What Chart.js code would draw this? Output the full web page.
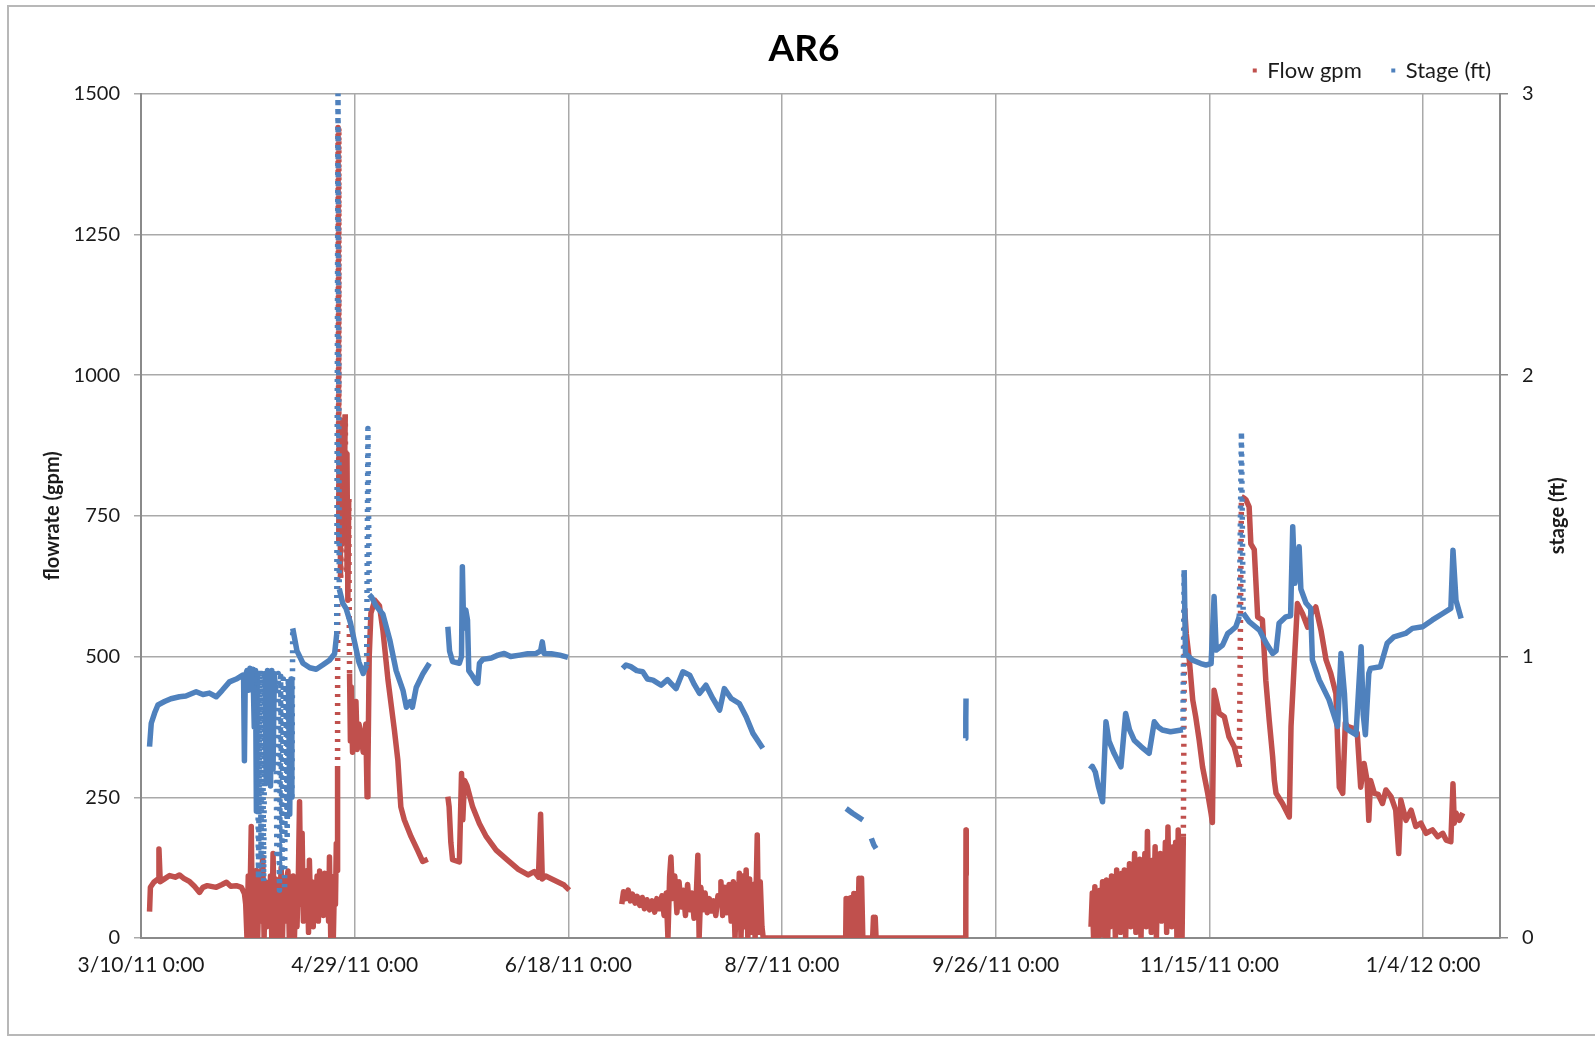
<!DOCTYPE html>
<html>
<head>
<meta charset="utf-8">
<title>AR6</title>
<script src="https://cdn.jsdelivr.net/npm/chart.js@4.4.1/dist/chart.umd.min.js"></script>
<style>
  html, body { margin: 0; padding: 0; background: #ffffff; }
  #wrap { position: relative; width: 1595px; height: 1040px; }
  #chart { position: absolute; left: 0; top: 0; }
  #frame { position: absolute; left: 7px; top: 5px; width: 1590px; height: 1031px;
           border: 2px solid #b8b8b8; pointer-events: none; box-sizing: border-box; }
</style>
</head>
<body>
<div id="wrap">
  <canvas id="chart" width="1595" height="1040"></canvas>
  <div id="frame"></div>
</div>
<script>
// Readings are [days since 3/10/11 0:00, value]; a null value marks a logging gap.

// Flow (gpm), left axis
const flowReadings = [
  [2.0,47],[2.2,90],[3.0,99],[4.0,105],[4.2,158],[4.5,100],[5.5,105],[6.7,111],[8.0,108],[9.0,112],
  [10.0,106],[11.4,100],[12.5,92],[13.7,81],[14.5,90],[15.5,93],[17.6,90],[19.0,95],[20.0,99],[21.0,92],
  [22.3,93],[23.5,90],[24.2,79],
  [24.5,60],[24.8,0],[25.1,110],[25.4,20],[25.8,198],[26.1,0],[26.4,100],[26.7,10],[27.0,120],[27.3,0],
  [27.6,90],[27.9,30],[28.2,115],[28.5,144],[28.8,0],[29.1,100],[29.4,20],[29.7,95],[30.0,40],[30.3,110],
  [30.6,0],[30.9,150],[31.2,20],[31.5,105],[31.8,0],[32.1,100],[32.4,50],[32.8,125],[33.1,0],[33.4,95],
  [33.7,30],[34.0,100],[34.4,119],[34.7,0],[35.0,90],[35.3,40],[35.6,110],[35.9,0],[36.2,85],[36.5,20],
  [36.8,100],[37.1,242],[37.4,60],[37.7,186],[38.0,30],[38.3,110],[38.6,70],[38.9,120],[39.2,10],[39.4,138],
  [39.7,50],[40.0,100],[40.3,20],[40.6,95],[40.9,60],[41.2,110],[41.5,30],[41.8,119],[42.1,70],[42.4,105],
  [42.7,40],[43.0,115],[43.3,60],[43.6,100],[43.9,30],[44.1,144],[44.4,0],[44.7,90],[45.0,0],[45.3,110],
  [45.5,60],[45.7,168],[45.9,120],
  [46.0,300],[46.1,1440],[46.3,700],[46.5,880],[46.7,640],[46.9,910],[47.1,700],[47.3,920],[47.5,760],
  [47.8,930],[48.0,650],[48.2,860],[48.4,600],[48.6,780],[48.8,470],[49.0,350],[49.2,446],[49.5,330],
  [49.7,400],[50.0,340],[50.3,420],[50.6,335],[51.0,380],[51.5,360],[52.0,330],[52.6,380],[52.9,251],
  [53.1,300],[53.4,500],[53.8,577],[54.7,600],[55.8,590],[56.6,547],[57.8,458],[59.3,369],[60.1,316],
  [60.8,233],[61.6,210],[63.2,180],[64.7,156],[65.9,136],[67.1,140],
  [69.5,null],
  [71.8,251],[72.1,233],[72.5,170],[72.9,139],[74.5,135],[75.0,292],[75.3,210],[75.7,280],[76.3,270],
  [77.6,233],[79.2,203],[80.8,180],[83.1,156],[85.5,140],[88.3,122],[90.6,112],[92.0,118],[93.0,108],
  [93.5,220],[93.9,105],[94.7,110],[96.6,103],[99.0,94],[100.2,85],
  [106.0,null],
  [112.5,60],[112.9,82],[113.4,70],[114.0,85],[114.5,66],[115.0,78],[115.6,62],[116.1,74],[116.7,58],
  [117.3,72],[117.8,52],[118.4,68],[119.0,50],[119.6,66],[120.2,46],[120.7,70],[121.3,52],[121.9,75],
  [122.4,40],[122.9,80],[123.3,0],[123.7,110],[124.0,144],[124.4,70],[124.9,110],[125.4,45],[125.9,100],
  [126.4,55],[126.9,85],[127.4,40],[127.9,95],[128.4,50],[128.9,80],[129.4,35],[129.9,70],[130.3,147],
  [130.6,0],[131.0,90],[131.5,50],[132.0,80],[132.5,45],[133.0,70],[133.5,48],[134.0,66],[134.5,40],
  [135.0,75],[135.5,60],[135.7,100],[136.1,40],[136.6,90],[137.1,45],[137.6,95],[138.1,30],[138.6,100],
  [139.0,0],[139.4,95],[139.7,40],[140.0,115],[140.4,0],[140.8,110],[141.2,20],[141.6,121],[142.0,0],
  [142.4,105],[142.8,10],[143.3,95],[143.7,0],[144.2,183],[144.5,10],[144.9,100],[145.3,20],[145.6,0],
  [150.0,0],[160.0,0],[164.9,0],[165.0,70],[165.3,0],[165.6,70],[165.9,0],[166.2,72],[166.5,0],[166.8,79],
  [167.1,0],[167.4,79],[167.7,0],[168.0,106],[168.3,0],[168.6,106],[168.9,0],[171.2,0],[171.4,37],
  [171.6,0],[171.8,37],[172.0,0],[180.0,0],[192.9,0],[193.0,41],[193.05,192],[193.1,113],
  [200.0,null],
  [222.3,20],[222.6,80],[222.9,0],[223.2,91],[223.5,10],[223.8,70],[224.1,0],[224.4,85],[224.7,30],
  [225.0,100],[225.3,5],[225.6,75],[225.9,103],[226.2,0],[226.5,90],[226.8,20],[227.1,110],[227.4,40],
  [227.7,95],[228.0,0],[228.3,121],[228.6,30],[228.9,100],[229.2,10],[229.5,115],[229.8,45],[230.1,121],
  [230.4,0],[230.7,100],[231.0,50],[231.3,132],[231.6,20],[231.9,110],[232.2,60],[232.5,150],[232.8,10],
  [233.1,120],[233.4,40],[233.7,140],[234.0,0],[234.3,125],[234.6,70],[234.9,150],[235.2,20],[235.5,189],
  [235.8,60],[236.1,130],[236.4,10],[236.7,138],[237.0,50],[237.3,162],[237.6,0],[237.9,120],[238.2,60],
  [238.5,150],[238.8,30],[239.1,140],[239.4,80],[239.7,170],[240.0,10],[240.3,197],[240.6,60],[240.9,150],
  [241.2,20],[241.5,162],[241.8,80],[242.1,170],[242.4,0],[242.7,192],[243.0,40],[243.3,140],[243.6,0],
  [243.9,180],
  [244.2,586],[244.6,540],[245.3,494],[246.1,423],[246.8,393],[247.6,352],[248.4,304],[249.6,257],
  [250.4,221],[250.7,205],[251.1,440],[252.3,399],[253.5,393],[254.6,357],[255.8,340],[257.0,304],
  [257.5,784],[258.2,781],[258.6,778],[259.3,766],[259.7,700],[260.5,690],[261.3,570],[262.4,565],
  [263.2,458],[264.0,387],[264.8,322],[265.2,280],[265.6,257],[267.1,239],[268.7,215],[269.1,376],
  [269.9,494],[270.6,594],[271.8,576],[273.0,552],[273.8,576],[274.9,588],[276.1,547],[277.3,494],
  [278.4,470],[279.6,434],[280.4,268],[281.2,257],[281.8,382],[282.3,376],[283.5,373],[284.6,364],
  [285.4,268],[286.2,310],[286.9,280],[287.3,209],[287.7,280],[288.6,257],[289.5,255],[290.5,239],
  [291.3,263],[292.5,251],[293.6,227],[294.3,150],[294.8,245],[296.0,209],[297.2,227],[298.3,198],
  [299.5,204],[300.7,186],[302.2,192],[303.4,180],[304.6,186],[305.4,174],[306.5,171],[307.0,274],
  [307.3,204],[307.7,222],[308.5,209],[309.3,222]
];

// Stage (ft), right axis
const stageReadings = [
  [2.0,0.68],[2.4,0.763],[3.2,0.80],[3.96,0.828],[5.5,0.84],[7.0,0.85],[9.0,0.857],[10.5,0.86],
  [12.9,0.875],[14.5,0.865],[16.0,0.87],[17.6,0.857],[19.0,0.88],[20.7,0.91],[22.3,0.92],[23.8,0.934],
  [24.0,0.93],[24.2,0.63],[24.4,0.93],[24.8,0.95],[25.2,0.88],[25.5,0.958],[25.9,0.90],[26.2,0.955],
  [26.5,0.75],[26.8,0.95],[27.0,0.45],[27.2,0.94],[27.5,0.21],[27.8,0.95],[28.1,0.30],[28.4,0.955],
  [28.7,0.20],[29.0,0.94],[29.3,0.55],[29.6,0.95],[30.0,0.92],[30.3,0.54],[30.6,0.95],[30.9,0.60],
  [31.2,0.94],[31.5,0.88],[31.8,0.30],[32.1,0.94],[32.4,0.17],[32.7,0.93],[33.0,0.25],[33.3,0.92],
  [33.6,0.17],[33.9,0.90],[34.2,0.35],[34.5,0.92],[34.8,0.44],[35.1,0.92],[35.3,0.50],
  [35.5,1.10],[36.5,1.02],[37.9,0.976],[39.5,0.96],[41.0,0.955],[42.5,0.97],[44.1,0.987],[45.3,1.01],
  [45.8,1.08],[46.1,3.0],[46.4,1.24],[47.2,1.19],[48.0,1.17],[49.0,1.12],[50.0,1.05],[51.0,0.98],
  [52.0,0.94],[52.8,0.97],[53.1,1.81],[53.4,1.22],[54.0,1.21],[55.0,1.18],[56.6,1.15],[58.2,1.06],
  [59.7,0.95],[61.3,0.88],[62.1,0.82],[63.0,0.84],[63.5,0.82],[64.4,0.89],[66.0,0.94],[67.5,0.976],
  [69.5,null],
  [71.8,1.106],[72.2,1.02],[72.9,0.982],[74.5,0.976],[75.0,1.0],[75.2,1.319],[75.5,1.10],[76.0,1.165],
  [76.4,1.13],[76.7,0.95],[77.6,0.93],[78.4,0.91],[78.8,0.905],[79.2,0.976],[80.0,0.99],[82.0,0.995],
  [83.5,1.005],[85.0,1.011],[86.5,1.0],[88.6,1.005],[90.5,1.01],[92.5,1.011],[93.5,1.02],[93.9,1.052],
  [94.3,1.011],[96.0,1.01],[98.0,1.005],[99.9,0.997],
  [106.0,null],
  [112.7,0.958],[113.5,0.97],[114.6,0.964],[116.0,0.95],[117.4,0.946],[118.5,0.92],[119.8,0.916],
  [121.7,0.898],[123.2,0.918],[124.0,0.905],[125.2,0.886],[126.8,0.946],[128.4,0.934],[129.5,0.90],
  [130.7,0.869],[132.2,0.898],[133.8,0.851],[135.4,0.81],[136.5,0.886],[138.1,0.851],[140.0,0.833],
  [141.6,0.786],[143.2,0.727],[145.5,0.674],
  [155.0,null],
  [165.0,0.46],[166.5,0.443],[168.9,0.419],[170.0,null],[170.9,0.354],[171.5,0.33],[172.0,0.318],
  [180.0,null],
  [192.95,0.71],[193.0,0.78],[193.05,0.851],
  [200.0,null],
  [222.1,0.60],[222.6,0.61],[223.3,0.59],[224.0,0.54],[225.0,0.484],[225.8,0.768],[226.5,0.70],
  [227.7,0.656],[229.3,0.608],[230.4,0.798],[231.3,0.74],[232.4,0.703],[234.0,0.68],[235.9,0.656],
  [237.1,0.768],[238.0,0.75],[239.0,0.739],[240.9,0.733],[243.8,0.74],[244.1,1.307],[244.4,1.011],
  [246.1,0.987],[248.0,0.975],[249.2,0.970],[250.4,0.975],[251.1,1.213],[251.6,1.023],[253.1,1.041],
  [254.3,1.082],[255.0,1.09],[256.2,1.106],[257.0,1.142],[257.5,1.799],[257.9,1.154],[259.3,1.124],
  [261.7,1.094],[263.3,1.047],[264.8,1.011],[265.6,1.02],[266.3,1.118],[267.9,1.141],[269.0,1.145],
  [269.5,1.461],[270.0,1.26],[271.0,1.39],[271.4,1.24],[272.6,1.19],[273.7,1.171],[274.1,0.988],
  [275.7,0.917],[278.0,0.846],[280.0,0.752],[280.8,1.011],[281.6,0.869],[282.0,0.745],[282.4,0.74],
  [284.3,0.722],[285.5,1.035],[286.0,0.793],[286.5,0.722],[287.3,0.94],[287.7,0.958],[290.0,0.964],
  [291.6,1.047],[293.2,1.07],[295.9,1.082],[297.5,1.1],[299.9,1.106],[302.2,1.13],[304.6,1.153],
  [306.5,1.171],[307.0,1.378],[307.7,1.2],[308.9,1.135]
];

// Date axis: 50-day major unit starting 3/10/11
const xTickDays   = [0, 50, 100, 150, 200, 250, 300];
const xTickLabels = ['3/10/11 0:00', '4/29/11 0:00', '6/18/11 0:00', '8/7/11 0:00',
                     '9/26/11 0:00', '11/15/11 0:00', '1/4/12 0:00'];
const xMaxDay = 318;

const FLOW_COLOR  = '#C0504D';
const STAGE_COLOR = '#4F81BD';
const FONT = 'Lato, "Open Sans", "DejaVu Sans", sans-serif';

Chart.defaults.font.family = FONT;
Chart.defaults.color = '#1a1a1a';

// Rapid jumps between loggings read as a run of separate dots
const sparseRun = ctx =>
  (Math.abs(ctx.p1.y - ctx.p0.y) > 150 && Math.abs(ctx.p1.x - ctx.p0.x) < 8) ? [3, 6] : undefined;

const toPoints = rows => rows.map(([d, v]) => ({ x: d, y: v }));

// Shift the legend into the corner under the title
const legendNudge = {
  id: 'legendNudge',
  afterLayout(chart) {
    const l = chart.legend;
    if (!l) return;
    l.left += 21; l.right += 21;
    l.top -= 2;   l.bottom -= 2;
  }
};

// Secondary axis title, reading bottom-to-top like the primary one
const stageAxisTitle = {
  id: 'stageAxisTitle',
  afterDraw(chart) {
    const { ctx, chartArea } = chart;
    ctx.save();
    ctx.translate(1558, (chartArea.top + chartArea.bottom) / 2);
    ctx.rotate(-Math.PI / 2);
    ctx.font = 'bold 20px ' + FONT;
    ctx.fillStyle = '#1a1a1a';
    ctx.textAlign = 'center';
    ctx.textBaseline = 'middle';
    ctx.fillText('stage (ft)', 0, 0);
    ctx.restore();
  }
};

new Chart(document.getElementById('chart'), {
  type: 'line',
  data: {
    datasets: [
      {
        label: 'Flow gpm',
        data: toPoints(flowReadings),
        yAxisID: 'y',
        borderColor: FLOW_COLOR,
        backgroundColor: FLOW_COLOR,
        borderWidth: 5.5,
        pointRadius: 0,
        borderJoinStyle: 'round',
        tension: 0,
        spanGaps: false,
        order: 1,
        segment: { borderDash: sparseRun }
      },
      {
        label: 'Stage (ft)',
        data: toPoints(stageReadings),
        yAxisID: 'y1',
        borderColor: STAGE_COLOR,
        backgroundColor: STAGE_COLOR,
        borderWidth: 5.5,
        pointRadius: 0,
        borderJoinStyle: 'round',
        tension: 0,
        spanGaps: false,
        order: 0,
        segment: { borderDash: sparseRun }
      }
    ]
  },
  plugins: [legendNudge, stageAxisTitle],
  options: {
    responsive: false,
    animation: false,
    devicePixelRatio: 1,
    layout: { padding: { left: 13, right: 0, top: 0, bottom: 0 } },
    plugins: {
      title: {
        display: true,
        text: 'AR6',
        color: '#000',
        font: { size: 37, weight: 'bold', lineHeight: 1 },
        padding: { top: 30.5, bottom: -35.9 }
      },
      legend: {
        position: 'top',
        align: 'end',
        fullSize: false,
        labels: {
          font: { size: 22 },
          color: '#1a1a1a',
          padding: 30,
          usePointStyle: true,
          pointStyle: 'rect',
          boxWidth: 3,
          boxHeight: 4,
          sort: (a, b) => a.datasetIndex - b.datasetIndex,
          generateLabels: chart =>
            Chart.defaults.plugins.legend.labels.generateLabels(chart)
              .map(item => Object.assign(item, { lineWidth: 0 }))
        }
      },
      tooltip: { enabled: false }
    },
    scales: {
      x: {
        type: 'linear',
        min: 0,
        max: xMaxDay,
        afterBuildTicks: scale => { scale.ticks = xTickDays.map(v => ({ value: v })); },
        afterFit: scale => { scale.height = 102; },
        ticks: {
          autoSkip: false,
          maxRotation: 0,
          padding: 15,
          font: { size: 21 },
          color: '#1a1a1a',
          callback: (value) => xTickLabels[xTickDays.indexOf(value)]
        },
        grid: { color: '#a9a9a9', lineWidth: 1.5, drawTicks: false },
        border: { color: '#8a8a8a', width: 2 }
      },
      y: {
        position: 'left',
        min: 0,
        max: 1500,
        afterFit: scale => { scale.width = 128; },
        ticks: { stepSize: 250, padding: 14, font: { size: 20 }, color: '#1a1a1a',
                 callback: value => String(value) },
        grid: { color: '#a9a9a9', lineWidth: 1.5, tickLength: 7 },
        border: { color: '#8a8a8a', width: 2 },
        title: {
          display: true,
          text: 'flowrate (gpm)',
          color: '#1a1a1a',
          font: { size: 20, weight: 'bold', lineHeight: 1.2 },
          padding: { top: 28, bottom: 0 }
        }
      },
      y1: {
        position: 'right',
        min: 0,
        max: 3,
        afterFit: scale => { scale.width = 95; },
        ticks: { stepSize: 1, padding: 14, font: { size: 20 }, color: '#1a1a1a',
                 callback: value => String(value) },
        grid: { drawOnChartArea: false, color: '#8a8a8a', lineWidth: 1.5, tickLength: 8 },
        border: { color: '#8a8a8a', width: 2 }
      }
    }
  }
});
</script>
</body>
</html>
